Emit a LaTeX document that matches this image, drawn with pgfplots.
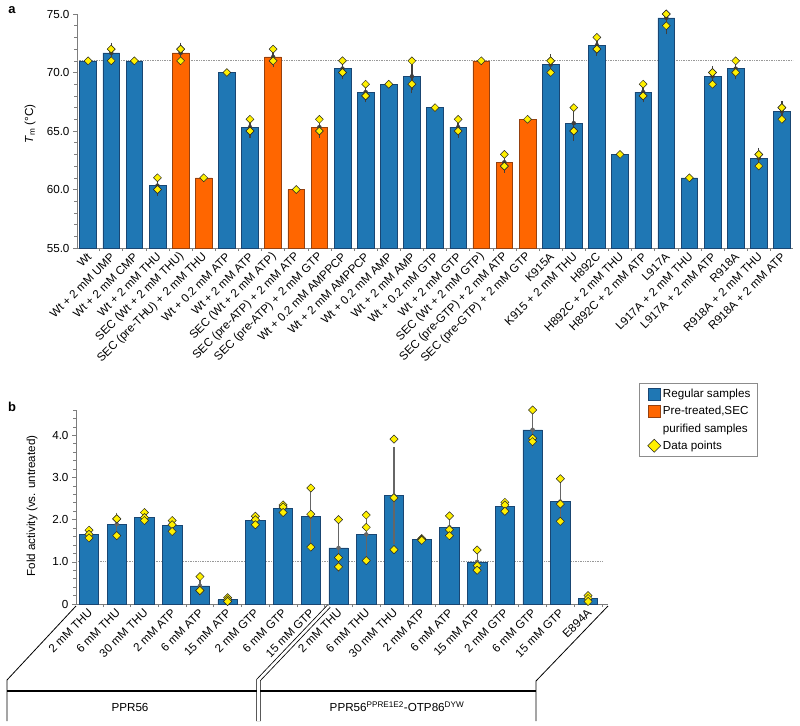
\documentclass[border=0pt]{standalone}
\usepackage{pgfplots}
\pgfplotsset{compat=1.18}
\usepackage{pgfplotstable}
\usepackage{fontspec}
\setmainfont{Liberation Sans}
\definecolor{barblue}{RGB}{31,119,180}
\definecolor{barorange}{RGB}{255,102,0}
\definecolor{bluedraw}{RGB}{25,70,115}
\definecolor{orangedraw}{RGB}{150,65,15}
\definecolor{ptyellow}{RGB}{255,240,0}
\definecolor{axgray}{RGB}{125,125,125}
\newcommand{\fs}{\fontsize{11.7}{14}\selectfont}

% Panel a: melting temperatures
\pgfplotstableread{
x y
0 71.00
1 71.67
2 71.00
3 60.33
6 70.00
7 65.33
11 70.33
12 68.33
13 69.00
14 69.67
15 67.00
16 65.33
20 70.67
21 65.67
22 72.33
23 63.00
24 68.33
25 74.67
26 61.00
27 69.67
28 70.33
29 62.67
30 66.67
}\blueA
\pgfplotstableread{
x y
4 71.67
5 61.00
8 71.33
9 60.00
10 65.33
17 71.00
18 62.33
19 66.00
}\orangeA
\pgfplotstableread{
x y e
1 71.67 0.58
3 60.33 0.58
4 71.67 0.58
7 65.33 0.58
8 71.33 0.58
10 65.33 0.58
11 70.33 0.58
12 68.33 0.58
14 69.67 1.15
16 65.33 0.58
18 62.33 0.58
20 70.67 0.58
21 65.67 1.20
22 72.33 0.58
24 68.33 0.58
25 74.67 1.10
27 69.67 0.58
28 70.33 0.58
29 62.67 0.58
30 66.67 0.58
}\errA
\pgfplotstableread{
x y
0 71
1 72
1 72
1 71
2 71
3 61
3 60
3 60
4 72
4 72
4 71
5 61
6 70
7 66
7 65
7 65
8 72
8 71
8 71
9 60
10 66
10 65
10 65
11 71
11 70
11 70
12 69
12 68
12 68
13 69
14 71
14 69
14 69
15 67
16 66
16 65
16 65
17 71
18 63
18 62
18 62
19 66
20 71
20 71
20 70
21 67
21 65
21 65
22 73
22 72
22 72
23 63
24 69
24 68
24 68
25 75
25 75
25 74
26 61
27 70
27 70
27 69
28 71
28 70
28 70
29 63
29 63
29 62
30 67
30 67
30 66
}\ptsA

% Panel b: fold activity
\pgfplotstableread{
x y e
0 1.65 0.07
1 1.89 0.19
2 2.06 0.08
3 1.86 0.11
4 0.43 0.16
5 0.10 0.04
6 1.98 0.08
7 2.27 0.08
8 2.07 0.57
9 1.33 0.48
10 1.65 0.45
11 2.57 1.07
12 1.53 0.02
13 1.82 0.19
14 1.00 0.20
15 2.32 0.08
16 4.13 0.34
17 2.43 0.40
18 0.13 0.05
}\barB
\pgfplotstableread{
x y
0 1.75
0 1.65
0 1.57
1 2.02
1 2.02
1 1.62
2 2.17
2 2.05
2 1.98
3 1.98
3 1.88
3 1.72
4 0.65
4 0.32
4 0.32
5 0.15
5 0.10
5 0.06
6 2.08
6 2.00
6 1.88
7 2.35
7 2.30
7 2.17
8 2.75
8 2.13
8 1.35
9 2.00
9 1.10
9 0.88
10 2.11
10 1.82
10 1.03
11 3.91
11 2.52
11 1.29
12 1.55
12 1.53
12 1.51
13 2.09
13 1.76
13 1.62
14 1.28
14 0.91
14 0.80
15 2.41
15 2.35
15 2.20
16 4.60
16 3.93
16 3.85
17 2.97
17 2.37
17 1.96
18 0.20
18 0.13
18 0.06
}\ptsB

\begin{document}
\begin{tikzpicture}
\useasboundingbox (0,0) rectangle (800bp,-726bp);

\pgfplotsset{
  common/.style={
    scale only axis,
    axis lines=left,
    axis line style={axgray, line width=0.7bp, -},
    tick align=outside,
    tick style={axgray, line width=0.6bp},
    major tick length=4bp,
    minor tick length=3bp,
    major x tick style={draw=none},
    tick label style={font=\fs},
    xticklabel style={rotate=45, anchor=east, inner sep=1bp, yshift=-3bp},
  }
}

% ---------------- Panel a ----------------
\begin{axis}[common,
  at={(77bp,-248bp)}, anchor=south west,
  width=716bp, height=234bp,
  xmin=-0.48, xmax=30.48, ymin=55, ymax=75,
  ytick={55,60,...,75},
  minor ytick={55,...,75},
  yticklabel style={/pgf/number format/.cd, fixed, fixed zerofill, precision=1, assume math mode=true},
  xtick={0,...,30},
  minor xtick={-0.5,0.5,...,30.5},
  xticklabels={Wt, Wt + 2 mM UMP, Wt + 2 mM CMP, Wt + 2 mM THU, SEC (Wt + 2 mM THU), SEC (pre-THU) + 2 mM THU, Wt + 0.2 mM ATP, Wt + 2 mM ATP, SEC (Wt + 2 mM ATP), SEC (pre-ATP) + 2 mM ATP, SEC (pre-ATP) + 2 mM GTP, Wt + 0.2 mM AMPPCP, Wt + 2 mM AMPPCP, Wt + 0.2 mM AMP, Wt + 2 mM AMP, Wt + 0.2 mM GTP, Wt + 2 mM GTP, SEC (Wt + 2 mM GTP), SEC (pre-GTP) + 2 mM ATP, SEC (pre-GTP) + 2 mM GTP, K915A, K915 + 2 mM THU, H892C, H892C + 2 mM THU, H892C + 2 mM ATP, L917A, L917A + 2 mM THU, L917A + 2 mM ATP, R918A, R918A + 2 mM THU, R918A + 2 mM ATP},
]
\addplot[densely dotted, black!40, line width=0.7bp, forget plot] coordinates {(-0.48,71) (30.48,71)};
\addplot[ybar, bar width=0.72, fill=barblue, draw=bluedraw, line width=0.6bp, forget plot] table[x=x,y=y] {\blueA};
\addplot[ybar, bar width=0.72, fill=barorange, draw=orangedraw, line width=0.6bp, forget plot] table[x=x,y=y] {\orangeA};
\addplot[only marks, mark=none, black!75, forget plot,
  error bars/.cd, y dir=both, y explicit,
  error bar style={line width=1.3bp, black!75},
  error mark options={line width=1.2bp, mark size=3.6bp, black!75}]
  table[x=x,y=y,y error=e] {\errA};
\addplot[only marks, mark=square*, mark size=2.8bp,
  mark options={rotate=45, fill=ptyellow, draw=black!85, line width=0.5bp}, forget plot]
  table[x=x,y=y] {\ptsA};
\end{axis}

% ---------------- Panel b ----------------
\begin{axis}[common,
  at={(76bp,-604bp)}, anchor=south west,
  width=532bp, height=194bp,
  xmin=-0.47, xmax=18.72, ymin=0, ymax=4.6,
  ytick={0,1,2,3,4},
  yticklabels={0,1.0,2.0,3.0,4.0},
  minor ytick={0,0.2,...,4.61},
  xtick={0,...,18},
  minor xtick={-0.5,0.5,...,18.5},
  xticklabels={2 mM THU, 6 mM THU, 30 mM THU, 2 mM ATP, 6 mM ATP, 15 mM ATP, 2 mM GTP, 6 mM GTP, 15 mM GTP, 2 mM THU, 6 mM THU, 30 mM THU, 2 mM ATP, 6 mM ATP, 15 mM ATP, 2 mM GTP, 6 mM GTP, 15 mM GTP, E894A},
  legend style={at={(1.058,1.139)}, anchor=north west, draw=black!45, line width=0.7bp,
    font=\fs, inner xsep=5bp, inner ysep=4bp, row sep=3.2bp,
    cells={anchor=west}},
]
\addlegendimage{legend image code/.code={\draw[fill=barblue, draw=bluedraw, line width=0.5bp] (4bp,-6bp) rectangle (16bp,6bp);}}
\addlegendentry{Regular samples}
\addlegendimage{legend image code/.code={\draw[fill=barorange, draw=orangedraw, line width=0.5bp] (4bp,-6bp) rectangle (16bp,6bp);}}
\addlegendentry{Pre-treated,SEC}
\addlegendimage{empty legend}
\addlegendentry{purified samples}
\addlegendimage{legend image code/.code={\draw[fill=ptyellow, draw=black!85, line width=0.5bp] (10bp,-6.5bp) -- (16.5bp,0bp) -- (10bp,6.5bp) -- (3.5bp,0bp) -- cycle;}}
\addlegendentry{Data points}

\addplot[densely dotted, black!40, line width=0.7bp, forget plot] coordinates {(-0.47,1) (18.5,1)};
\addplot[ybar, bar width=0.70, fill=barblue, draw=bluedraw, line width=0.6bp, forget plot] table[x=x,y=y] {\barB};
\addplot[only marks, mark=none, black!60, forget plot,
  error bars/.cd, y dir=both, y explicit,
  error bar style={line width=1.2bp, black!60},
  error mark options={line width=1.1bp, mark size=3.6bp, black!60}]
  table[x=x,y=y,y error=e] {\barB};
\addplot[only marks, mark=square*, mark size=2.9bp,
  mark options={rotate=45, fill=ptyellow, draw=black!85, line width=0.5bp}, forget plot]
  table[x=x,y=y] {\ptsB};
\end{axis}

% panel letters and axis titles
\node[font=\bfseries\fontsize{13}{15}\selectfont] at (12bp,-10bp) {a};
\node[font=\bfseries\fontsize{13}{15}\selectfont] at (12bp,-407bp) {b};
\node[rotate=90, font=\fs] at (30bp,-124bp) {\textit{T}\textsubscript{m} (°C)};
\node[rotate=90, font=\fs] at (32bp,-506bp) {Fold activity (vs. untreated)};

% group brackets under panel b
\draw[line width=1.4bp] (7bp,-691bp) -- (536bp,-691bp);
\draw[line width=0.8bp] (76bp,-606bp) -- (7bp,-680bp) -- (7bp,-721bp);
\draw[line width=0.8bp, double, double distance=2.6bp] (329bp,-606bp) -- (258.5bp,-680bp) -- (258.5bp,-721bp);
\draw[line width=0.8bp] (608bp,-606bp) -- (536bp,-681bp) -- (536bp,-721bp);
\node[font=\fs] at (130bp,-707bp) {PPR56};
\node[font=\fs] at (397bp,-707bp) {PPR56\textsuperscript{PPRE1E2}-OTP86\textsuperscript{DYW}};
\end{tikzpicture}
\end{document}
